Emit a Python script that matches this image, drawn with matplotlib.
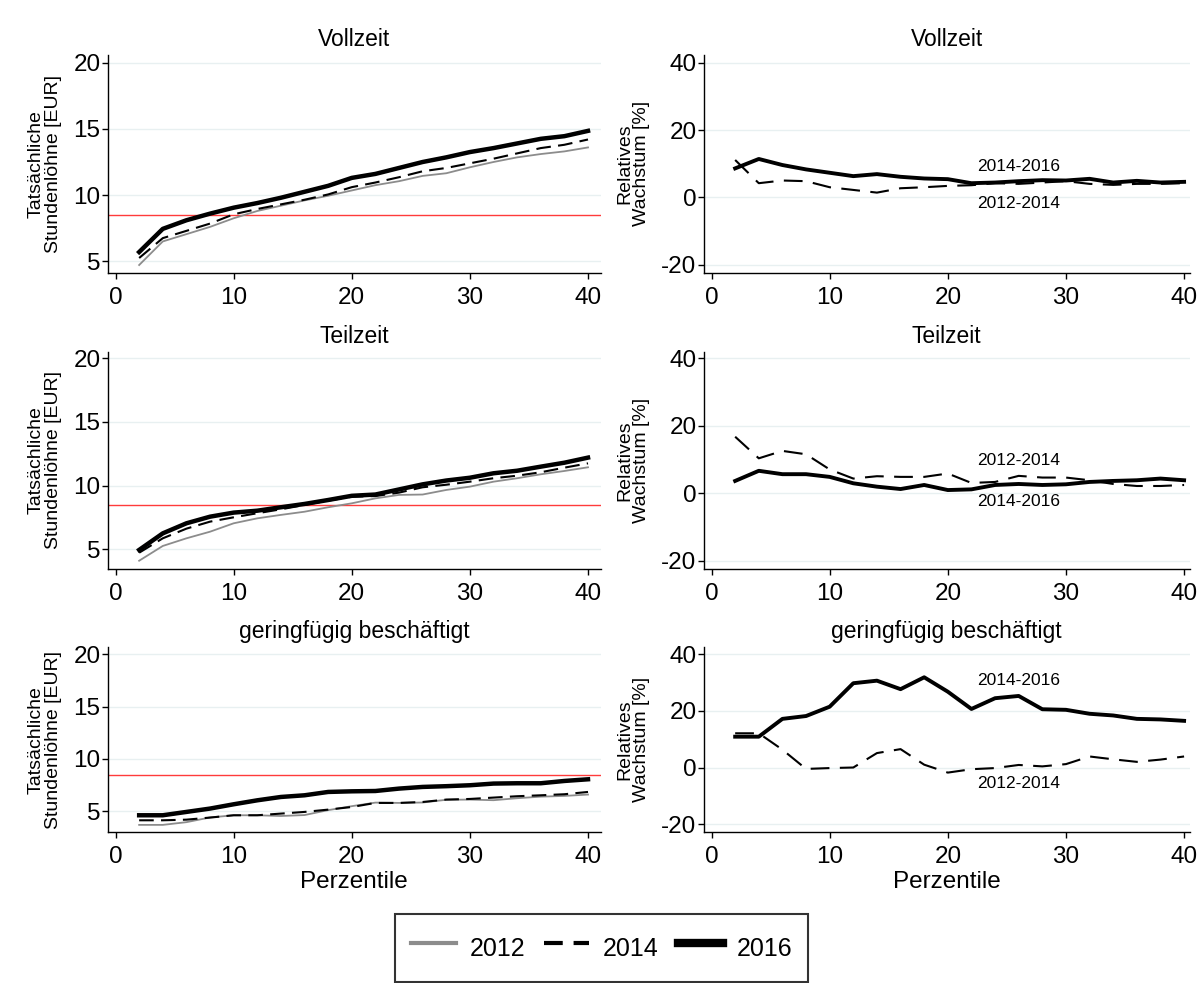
import matplotlib
matplotlib.use("Agg")
import matplotlib.pyplot as plt
from matplotlib.lines import Line2D

plt.rcParams['font.family'] = ['Liberation Sans', 'DejaVu Sans']
plt.rcParams['axes.unicode_minus'] = False  # Stata schreibt "-20"

# Perzentile
perz = [2, 4, 6, 8, 10, 12, 14, 16, 18, 20, 22, 24, 26, 28, 30, 32, 34, 36, 38, 40]

# Vollzeit, Stundenloehne
voll_2012 = [4.72, 6.5, 7.05, 7.6, 8.25, 8.8, 9.2, 9.6, 9.95, 10.35, 10.75, 11.05, 11.45, 11.65, 12.1, 12.5, 12.85, 13.1, 13.3, 13.6]
voll_2014 = [5.25, 6.75, 7.3, 7.85, 8.55, 8.95, 9.3, 9.65, 10.05, 10.6, 10.95, 11.35, 11.8, 12.05, 12.4, 12.75, 13.15, 13.55, 13.8, 14.2]
voll_2016 = [5.7, 7.45, 8.1, 8.6, 9.05, 9.4, 9.8, 10.25, 10.7, 11.3, 11.6, 12.05, 12.5, 12.85, 13.25, 13.55, 13.9, 14.25, 14.45, 14.85]

# Teilzeit
teil_2012 = [4.1, 5.26, 5.86, 6.38, 7.04, 7.43, 7.7, 7.95, 8.3, 8.61, 9.0, 9.27, 9.3, 9.66, 9.92, 10.31, 10.58, 10.89, 11.15, 11.44]
teil_2014 = [4.73, 5.86, 6.62, 7.17, 7.51, 7.83, 8.14, 8.48, 8.82, 9.13, 9.18, 9.45, 9.87, 10.07, 10.31, 10.58, 10.78, 11.05, 11.41, 11.75]
teil_2016 = [4.95, 6.25, 7.04, 7.56, 7.88, 8.03, 8.3, 8.56, 8.87, 9.2, 9.3, 9.7, 10.1, 10.4, 10.62, 10.97, 11.17, 11.49, 11.8, 12.2]

# geringfuegig beschaeftigt
ger_2012 = [3.7, 3.7, 3.96, 4.41, 4.62, 4.62, 4.55, 4.64, 5.11, 5.49, 5.83, 5.8, 5.84, 6.1, 6.12, 6.06, 6.25, 6.4, 6.47, 6.6]
ger_2014 = [4.14, 4.14, 4.2, 4.4, 4.62, 4.62, 4.78, 4.94, 5.16, 5.41, 5.8, 5.8, 5.89, 6.12, 6.18, 6.31, 6.44, 6.53, 6.63, 6.85]
ger_2016 = [4.62, 4.62, 4.94, 5.26, 5.67, 6.05, 6.37, 6.53, 6.85, 6.91, 6.94, 7.17, 7.33, 7.4, 7.49, 7.65, 7.68, 7.68, 7.9, 8.06]

# Relatives Wachstum [%]
voll_g1214 = [11.1, 4.2, 5.0, 4.8, 3.0, 2.2, 1.4, 2.7, 3.0, 3.4, 3.6, 4.2, 4.0, 4.4, 4.8, 4.0, 3.7, 4.0, 4.0, 4.2]
voll_g1416 = [8.6, 11.4, 9.6, 8.3, 7.3, 6.3, 6.9, 6.1, 5.6, 5.4, 4.2, 4.4, 4.8, 5.1, 5.0, 5.5, 4.4, 4.9, 4.4, 4.6]
teil_g1214 = [16.8, 10.4, 12.6, 11.6, 7.1, 4.4, 5.1, 4.9, 4.9, 5.9, 3.1, 3.4, 5.2, 4.7, 4.7, 3.9, 2.8, 2.2, 2.2, 2.5]
teil_g1416 = [3.7, 6.7, 5.7, 5.7, 4.9, 3.0, 2.0, 1.3, 2.5, 1.0, 1.2, 2.5, 2.8, 2.5, 2.7, 3.4, 3.7, 3.9, 4.4, 3.9]
ger_g1214 = [12.1, 12.1, 6.3, -0.5, -0.2, 0.0, 5.1, 6.5, 1.0, -1.8, -0.6, -0.2, 0.9, 0.4, 1.2, 3.9, 2.9, 2.0, 2.8, 3.9]
ger_g1416 = [10.9, 10.9, 17.2, 18.2, 21.5, 29.8, 30.7, 27.7, 31.9, 26.8, 20.7, 24.5, 25.3, 20.6, 20.4, 19.0, 18.4, 17.2, 17.0, 16.5]

titel = ["Vollzeit", "Teilzeit", "geringfügig beschäftigt"]
mindestlohn = 8.5

W, H = 1204, 983
fig = plt.figure(figsize=(W / 100, H / 100), dpi=100)

def achse(l, r, t, b):
    return fig.add_axes([l / W, 1 - b / H, (r - l) / W, (b - t) / H])

zeilen = [(55, 272.7), (351.7, 569), (647.3, 832)]
ylim_links = [(4.14, 20.58), (3.45, 20.52), (3.02, 20.68)]
ylim_rechts = [(-22.4, 42.3), (-22.4, 42.0), (-22.8, 42.5)]
lohn = [(voll_2012, voll_2014, voll_2016), (teil_2012, teil_2014, teil_2016), (ger_2012, ger_2014, ger_2016)]
wachstum = [(voll_g1214, voll_g1416), (teil_g1214, teil_g1416), (ger_g1214, ger_g1416)]
# Position der Beschriftungen (x, y) fuer 2012-2014 und 2014-2016
labelpos = [((26, -1.8), (26, 9.1)), ((26, 9.7), (26, -2.5)), ((26, -5.5), (26, 30.7))]

gridfarbe = "#e8f0f1"

def stil(ax, ylab):
    for s in ["top", "right"]:
        ax.spines[s].set_visible(False)
    ax.spines["left"].set_linewidth(1.0)
    ax.spines["bottom"].set_linewidth(1.0)
    ax.grid(axis="y", color=gridfarbe, lw=1.0)
    ax.set_axisbelow(True)
    ax.tick_params(axis="x", length=4, width=1, pad=6, labelsize=17.5)
    ax.tick_params(axis="y", length=4, width=1, pad=1, labelsize=17.5)
    ax.set_xticks([0, 10, 20, 30, 40])
    ax.set_ylabel(ylab, fontsize=14, va="center", linespacing=1.0)

for i in range(3):
    t, b = zeilen[i]

    # links: Stundenloehne
    ax = achse(107.5, 601, t, b)
    stil(ax, "Tatsächliche\nStundenlöhne [EUR]")
    ax.yaxis.set_label_coords(-0.127, 0.5)
    ax.set_xlim(-0.68, 41.1)
    ax.set_ylim(*ylim_links[i])
    ax.set_yticks([5, 10, 15, 20])
    ax.axhline(mindestlohn, color="#ff3b3b", lw=1.0, zorder=1)
    l12, l14, l16 = lohn[i]
    ax.plot(perz, l12, color="#8c8c8c", lw=1.3)
    ax.plot(perz, l14, color="black", lw=1.5, dashes=(7, 3.5))
    ax.plot(perz, l16, color="black", lw=3.2)
    ax.set_title(titel[i], fontsize=16.5, pad=6.5)
    if i == 2:
        ax.set_xlabel("Perzentile", fontsize=17.5, labelpad=2)

    # rechts: Wachstum
    ax = achse(703.5, 1190, t, b)
    stil(ax, "Relatives\nWachstum [%]")
    ax.yaxis.set_label_coords(-0.145, 0.5)
    ax.set_xlim(-0.68, 40.5)
    ax.set_ylim(*ylim_rechts[i])
    ax.set_yticks([-20, 0, 20, 40])
    g1214, g1416 = wachstum[i]
    ax.plot(perz, g1214, color="black", lw=1.5, dashes=(9, 5))
    ax.plot(perz, g1416, color="black", lw=2.8)
    p1, p2 = labelpos[i]
    ax.text(p1[0], p1[1], "2012-2014", fontsize=12.5, ha="center", va="center")
    ax.text(p2[0], p2[1], "2014-2016", fontsize=12.5, ha="center", va="center")
    ax.set_title(titel[i], fontsize=16.5, pad=6.5)
    if i == 2:
        ax.set_xlabel("Perzentile", fontsize=17.5, labelpad=2)

handles = [Line2D([], [], color="#8c8c8c", lw=3),
           Line2D([], [], color="black", lw=3, dashes=(4.5, 2.6)),
           Line2D([], [], color="black", lw=6)]
leg = fig.legend(handles, ["2012", "2014", "2016"], loc="center", ncol=3,
                 bbox_to_anchor=(601.5 / W, 1 - 948 / H), fontsize=18,
                 frameon=True, fancybox=False, edgecolor="black",
                 handlelength=1.8, handletextpad=0.55, columnspacing=0.75,
                 borderpad=0.65, handleheight=1.75)
leg.get_frame().set_linewidth(1.5)

fig.savefig("out.png", dpi=100, facecolor="white")
